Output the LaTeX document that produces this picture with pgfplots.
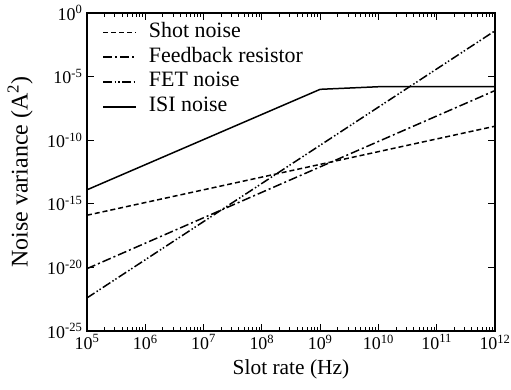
\documentclass[border=0pt]{standalone}
\usepackage{fontspec}
\setmainfont{Liberation Serif}
\usepackage{pgfplots}
\pgfplotsset{compat=1.18}
\begin{document}
\begin{tikzpicture}
\begin{loglogaxis}[
  scale only axis, width=408bp, height=318bp,
  xmin=1e5, xmax=1e12, ymin=1e-25, ymax=1,
  xtick={1e5,1e6,1e7,1e8,1e9,1e10,1e11,1e12},
  xticklabels={10\textsuperscript{5},10\textsuperscript{6},10\textsuperscript{7},10\textsuperscript{8},10\textsuperscript{9},10\textsuperscript{10},10\textsuperscript{11},10\textsuperscript{12}},
  ytick={1e-25,1e-20,1e-15,1e-10,1e-5,1},
  yticklabels={10\textsuperscript{-25},10\textsuperscript{-20},10\textsuperscript{-15},10\textsuperscript{-10},10\textsuperscript{-5},10\textsuperscript{0}},
  yminorticks=false,
  tick align=inside,
  major tick length=7bp, minor tick length=4bp,
  every tick/.style={black, line width=0.9pt},
  axis line style={line width=1.3pt},
  tick label style={font=\fontsize{18}{20}\selectfont},
  xticklabel style={inner sep=3.5pt},
  yticklabel style={inner sep=4.5pt},
  label style={font=\fontsize{21.5}{24}\selectfont},
  xlabel={Slot rate (Hz)},
  xlabel style={at={(axis description cs:0.5,-0.138)}, anchor=base},
  ylabel={Noise variance (A\textsuperscript{2})},
  ylabel style={at={(axis description cs:-0.164,0.5)}, anchor=center, font=\fontsize{24}{26}\selectfont},
  legend style={draw=none, fill=none, at={(axis description cs:0.03,0.985)}, anchor=north west,
    font=\fontsize{22}{24}\selectfont,
    nodes={font=\fontsize{22}{24}\selectfont, text height=15bp, text depth=5bp, inner ysep=2.4bp, inner xsep=2bp},
    column sep=10bp, row sep=0pt},
  legend cell align=left,
  legend image code/.code={\draw[#1] (0bp,0bp) -- (33bp,0bp);},
]
\addplot[black, line width=1.5pt, dash pattern=on 5pt off 3pt] coordinates {(1e5,1.26e-16) (1e12,1.26e-9)};
\addlegendentry{Shot noise}
\addplot[black, line width=1.5pt, dash pattern=on 9pt off 3pt on 2pt off 3pt] coordinates {(1e5,8e-21) (1e12,8e-7)};
\addlegendentry{Feedback resistor}
\addplot[black, line width=1.5pt, dash pattern=on 9pt off 2.5pt on 1.5pt off 2pt on 1.5pt off 2.5pt] coordinates {(1e5,4e-23) (1e12,4e-2)};
\addlegendentry{FET noise}
\addplot[black, line width=1.5pt] coordinates {(1e5,1.26e-14) (1e9,1e-6) (1e10,1.6e-6) (1e12,1.6e-6)};
\addlegendentry{ISI noise}
\end{loglogaxis}
\pgfresetboundingbox
\useasboundingbox ([shift={(-87bp,-59bp)}]current axis.south west) rectangle ([shift={(16bp,13bp)}]current axis.north east);
\end{tikzpicture}
\end{document}
